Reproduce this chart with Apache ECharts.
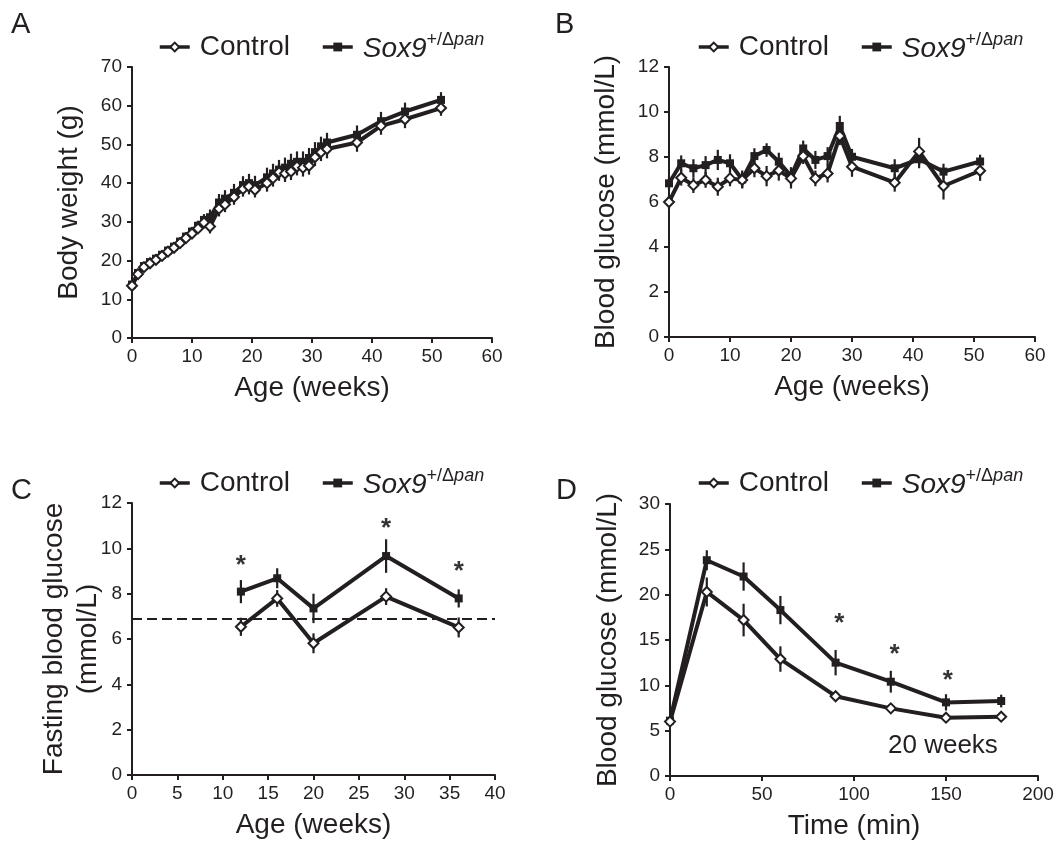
<!DOCTYPE html>
<html>
<head>
<meta charset="utf-8">
<script src="https://cdn.jsdelivr.net/npm/echarts@6/dist/echarts.min.js"></script>
<style>
  html, body { margin: 0; padding: 0; background: #fff; }
  #chart { width: 1058px; height: 847px; }
</style>
</head>
<body>
<div id="chart"></div>
<script>
const INK = '#231f20';
const FONT = '"Liberation Sans", Arial, sans-serif';

// A: body weight (g) by age (weeks)
const agesA = [0, 1, 2, 3, 4, 5, 6, 7, 8, 9, 10, 11, 12, 13, 14.5, 15.5, 17, 18.5, 19.5, 20.5, 22.5, 23.5, 24.5, 25.5, 26.5, 27.5, 28.5, 29.5, 30.5, 31.5, 32.5, 37.5, 41.5, 45.5, 51.5];
const ctrlA = [13.5, 16.5, 18.3, 19.3, 20.2, 21.2, 22.3, 23.3, 24.5, 25.8, 27, 28.3, 29.8, 28.8, 33.4, 34.5, 36.4, 38.5, 39.1, 38.3, 40, 41.3, 42.8, 42.5, 43, 44.3, 44, 44.5, 46.7, 48, 48.8, 50.5, 54.8, 56.5, 59.4];
const soxA  = [13.8, 16.8, 18.6, 19.6, 20.5, 21.5, 22.6, 23.6, 24.9, 26.2, 27.5, 29, 30.5, 31.2, 35, 36, 37.5, 39.5, 40, 39.5, 41.5, 42.5, 43.5, 44, 45, 45.5, 45.5, 46.5, 48, 49.5, 50.5, 52.5, 56, 58.5, 61.5];
const ctrlErrA = [0.6, 0.6, 0.7, 0.7, 0.8, 0.8, 0.9, 0.9, 1, 1, 1, 1.2, 1.3, 1.8, 2, 2, 2, 2, 2, 2, 2.2, 2.2, 2.2, 2.2, 2.2, 2.3, 2.3, 2.3, 2.3, 2.3, 2.4, 2.4, 2.3, 2.3, 2];
const soxErrA  = [0.6, 0.7, 0.7, 0.8, 0.8, 0.9, 0.9, 1, 1, 1.1, 1.2, 1.3, 1.5, 2, 2.2, 2.2, 2.3, 2.3, 2.4, 2.4, 2.5, 2.5, 2.5, 2.6, 2.6, 2.7, 2.7, 2.6, 2.6, 2.5, 2.5, 2.4, 2.4, 2.3, 2];

// B: blood glucose (mmol/L) by age (weeks)
const agesB = [0, 2, 4, 6, 8, 10, 12, 14, 16, 18, 20, 22, 24, 26, 28, 30, 37, 41, 45, 51];
const ctrlB = [6.0, 7.08, 6.75, 6.98, 6.68, 7.05, 6.98, 7.5, 7.15, 7.4, 7.05, 8.04, 7.05, 7.27, 8.93, 7.57, 6.86, 8.25, 6.71, 7.39];
const soxB  = [6.83, 7.72, 7.5, 7.64, 7.87, 7.72, 7.0, 8.04, 8.31, 7.79, 7.15, 8.38, 7.87, 8.04, 9.38, 8.01, 7.5, 7.9, 7.35, 7.8];
const ctrlErrB = [0.3, 0.35, 0.35, 0.35, 0.4, 0.35, 0.35, 0.4, 0.45, 0.45, 0.45, 0.35, 0.35, 0.4, 0.4, 0.45, 0.4, 0.6, 0.6, 0.45];
const soxErrB  = [0.3, 0.35, 0.4, 0.4, 0.45, 0.4, 0.4, 0.35, 0.3, 0.4, 0.4, 0.35, 0.4, 0.4, 0.45, 0.35, 0.4, 0.4, 0.35, 0.3];

// C: fasting blood glucose (mmol/L) by age (weeks)
const agesC = [12, 16, 20, 28, 36];
const ctrlC = [6.54, 7.79, 5.81, 7.87, 6.51];
const soxC  = [8.09, 8.68, 7.35, 9.66, 7.79];
const ctrlErrC = [0.4, 0.37, 0.44, 0.37, 0.44];
const soxErrC  = [0.51, 0.44, 0.65, 0.74, 0.4];
const refLineC = 6.9;
const starC = [[12, 9.6], [28, 11.2], [36, 9.3]];

// D: glucose tolerance, blood glucose (mmol/L) by time (min)
const timesD = [0, 20, 40, 60, 90, 120, 150, 180];
const ctrlD = [6.0, 20.3, 17.2, 12.9, 8.8, 7.46, 6.43, 6.54];
const soxD  = [6.1, 23.8, 22.0, 18.3, 12.5, 10.4, 8.12, 8.27];
const ctrlErrD = [0.3, 1.6, 1.8, 1.4, 0.5, 0.4, 0.4, 0.4];
const soxErrD  = [0.3, 1.1, 1.56, 1.56, 1.4, 1.2, 0.9, 0.7];
const starD = [[92, 17.7], [122, 14.3], [151, 11.4]];

const zip = (xs, ys) => xs.map((x, i) => [x, ys[i]]);
const zip3 = (xs, ys, es) => xs.map((x, i) => [x, ys[i], es[i]]);

const panels = [
  { grid: { left: 132, top: 67, width: 360, height: 271 }, x: [0, 60, 10], y: [0, 70, 10],
    xName: 'Age (weeks)', yName: 'Body weight (g)', yGap: 46,
    xs: agesA, ctrl: ctrlA, sox: soxA, ce: ctrlErrA, se: soxErrA, legend: [153, 26] },
  { grid: { left: 669, top: 67, width: 366, height: 270 }, x: [0, 60, 10], y: [0, 12, 2],
    xName: 'Age (weeks)', yName: 'Blood glucose (mmol/L)', yGap: 46,
    xs: agesB, ctrl: ctrlB, sox: soxB, ce: ctrlErrB, se: soxErrB, legend: [692, 26] },
  { grid: { left: 132, top: 503, width: 363, height: 272 }, x: [0, 40, 5], y: [0, 12, 2],
    xName: 'Age (weeks)', yName: 'Fasting blood glucose\n(mmol/L)', yGap: 27,
    xs: agesC, ctrl: ctrlC, sox: soxC, ce: ctrlErrC, se: soxErrC, legend: [153, 462], stars: starC },
  { grid: { left: 670, top: 504, width: 368, height: 272 }, x: [0, 200, 50], y: [0, 30, 5],
    xName: 'Time (min)', yName: 'Blood glucose (mmol/L)', yGap: 45,
    xs: timesD, ctrl: ctrlD, sox: soxD, ce: ctrlErrD, se: soxErrD, legend: [692, 462], stars: starD },
];

const axisCommon = {
  axisLine: { show: true, onZero: false, lineStyle: { color: INK, width: 2 } },
  axisTick: { show: true, length: 5, lineStyle: { color: INK, width: 2 } },
  splitLine: { show: false },
  axisLabel: { color: INK, fontSize: 19, fontFamily: FONT },
  nameTextStyle: { color: INK, fontSize: 28, fontFamily: FONT, lineHeight: 34 },
  nameLocation: 'middle',
  nameMoveOverlap: false,
};

function errBars(i, data) {
  return {
    type: 'custom', xAxisIndex: i, yAxisIndex: i, z: 2, silent: true,
    encode: { x: 0, y: 1 },
    data,
    renderItem: (params, api) => {
      const x = api.value(0), y = api.value(1), e = api.value(2);
      const a = api.coord([x, y - e]), b = api.coord([x, y + e]);
      return { type: 'line', shape: { x1: a[0], y1: a[1], x2: b[0], y2: b[1] },
               style: { stroke: INK, lineWidth: 2.2 } };
    },
  };
}

const grids = [], xAxes = [], yAxes = [], series = [], legends = [];
panels.forEach((p, i) => {
  grids.push(p.grid);
  xAxes.push({ ...axisCommon, type: 'value', gridIndex: i, min: p.x[0], max: p.x[1], interval: p.x[2],
    name: p.xName, nameGap: 33, axisLabel: { ...axisCommon.axisLabel, margin: 9 } });
  yAxes.push({ ...axisCommon, type: 'value', gridIndex: i, min: p.y[0], max: p.y[1], interval: p.y[2],
    name: p.yName, nameGap: p.yGap, nameRotate: 90, axisLabel: { ...axisCommon.axisLabel, margin: 10 } });
  series.push(errBars(i, zip3(p.xs, p.sox, p.se)));
  series.push(errBars(i, zip3(p.xs, p.ctrl, p.ce)));
  series.push({
    type: 'line', name: 'Sox9', xAxisIndex: i, yAxisIndex: i, z: 3,
    data: zip(p.xs, p.sox), symbol: 'rect', symbolSize: 8, showAllSymbol: true,
    lineStyle: { color: INK, width: 4 }, itemStyle: { color: INK },
  });
  const ctrl = {
    type: 'line', name: 'Control', xAxisIndex: i, yAxisIndex: i, z: 3,
    data: zip(p.xs, p.ctrl), symbol: 'diamond', symbolSize: 10, showAllSymbol: true,
    lineStyle: { color: INK, width: 4 }, itemStyle: { color: '#fff', borderColor: INK, borderWidth: 2 },
  };
  if (i === 2) {
    ctrl.markLine = { silent: true, symbol: 'none', data: [{ yAxis: refLineC }], label: { show: false },
      lineStyle: { type: [10, 5], color: INK, width: 2 } };
  }
  series.push(ctrl);
  if (p.stars) {
    series.push({
      type: 'scatter', xAxisIndex: i, yAxisIndex: i, z: 4, silent: true, symbolSize: 0,
      data: p.stars,
      label: { show: true, position: 'inside', formatter: '*', color: '#000', fontSize: 26,
        fontWeight: 'bold', fontFamily: FONT, offset: [0, 8] },
    });
  }
  legends.push({
    left: p.legend[0], top: p.legend[1], orient: 'horizontal', itemWidth: 30, itemHeight: 11, itemGap: 31,
    data: ['Control', 'Sox9'], selectedMode: false,
    lineStyle: { width: 3.5, color: INK },
    formatter: n => n === 'Sox9' ? '{it|Sox9}{sup|+/Δ}{supi|pan}' : n,
    textStyle: {
      color: INK, fontSize: 28, fontFamily: FONT, padding: [0, 0, 0, 5],
      rich: {
        it: { fontStyle: 'italic', fontSize: 28, fontFamily: FONT, color: INK, lineHeight: 32, verticalAlign: 'bottom' },
        sup: { fontSize: 18, fontFamily: FONT, color: INK, lineHeight: 18, verticalAlign: 'top' },
        supi: { fontSize: 18, fontStyle: 'italic', fontFamily: FONT, color: INK, lineHeight: 18, verticalAlign: 'top' },
      },
    },
  });
});

const letter = (t, x, y) => ({ type: 'text', left: x, top: y, silent: true,
  style: { text: t, fontSize: 29, fontFamily: FONT, fill: INK } });

const chart = echarts.init(document.getElementById('chart'), null, { renderer: 'canvas' });
chart.setOption({
  animation: false,
  backgroundColor: '#fff',
  textStyle: { fontFamily: FONT },
  grid: grids,
  xAxis: xAxes,
  yAxis: yAxes,
  legend: legends,
  series,
  graphic: [
    letter('A', 11, 10),
    letter('B', 555, 10),
    letter('C', 11, 476),
    letter('D', 556, 476),
    { type: 'text', left: 888, top: 733, silent: true,
      style: { text: '20 weeks', fontSize: 26, fontFamily: FONT, fill: INK } },
  ],
});
</script>
</body>
</html>
